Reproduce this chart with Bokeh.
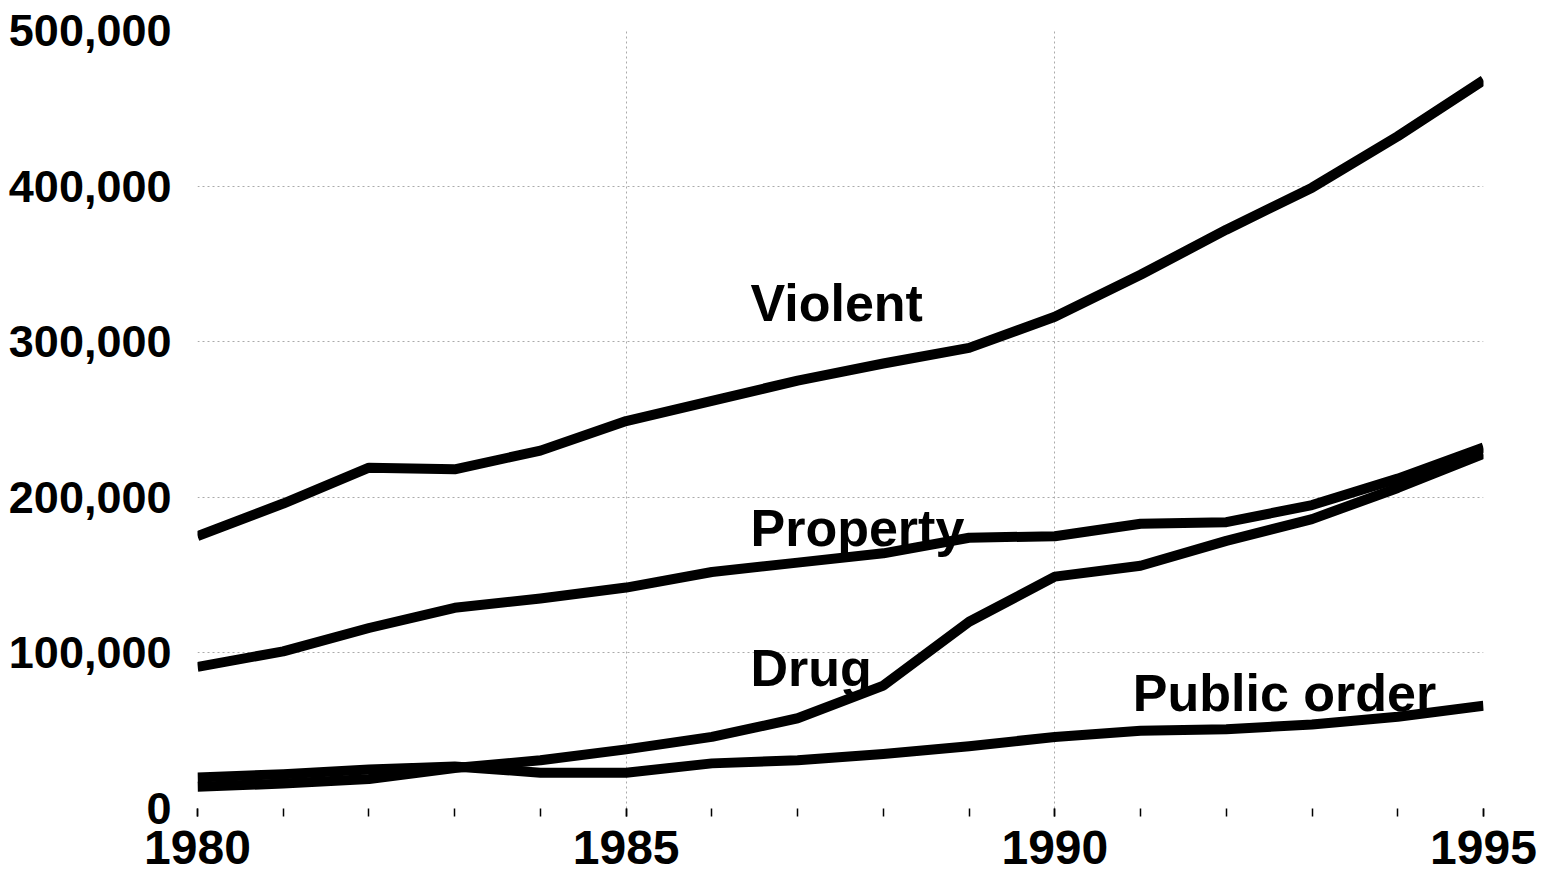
from bokeh.plotting import figure
from bokeh.models import FixedTicker, NumeralTickFormatter, ColumnDataSource
from bokeh.core.properties import value
from bokeh.embed import file_html
from bokeh.resources import INLINE

years = list(range(1980, 1996))
violent = [175000, 196000, 219000, 218000, 230000, 249000, 262000, 275000,
           286000, 296000, 316000, 343000, 372000, 399000, 432000, 468000]
property_ = [91000, 101000, 116000, 129000, 135000, 142000, 152000, 158000,
             164000, 174000, 175000, 183000, 184000, 195000, 212000, 232000]
drug = [14000, 16000, 19000, 26000, 31000, 38000, 46000, 58000,
        79000, 120000, 149000, 156000, 172000, 186000, 206000, 228000]
public_order = [20000, 22000, 25000, 27000, 23000, 23000, 29000, 31000,
                35000, 40000, 46000, 50000, 51000, 54000, 59000, 66000]

label_names = ["Violent", "Property", "Drug", "Public order"]
label_x = [1986.45, 1986.45, 1986.45, 1990.91]
label_y = [325000, 180500, 90500, 74500]

x_label_years = [1980, 1985, 1990, 1995]
y_ticks = [0, 100000, 200000, 300000, 400000, 500000]

FONT = "Liberation Sans"

p = figure(width=1541, height=884, x_range=(1980, 1995), y_range=(0, 500000),
           output_backend="svg", toolbar_location=None,
           min_border_left=197, min_border_right=58,
           min_border_top=30, min_border_bottom=76)
p.outline_line_color = None
p.background_fill_color = "white"

# axes
p.xaxis.ticker = FixedTicker(ticks=x_label_years, minor_ticks=years)
p.xaxis.axis_line_color = None
p.xaxis.major_tick_line_color = "black"
p.xaxis.major_tick_line_width = 1.5
p.xaxis.major_tick_out = 8
p.xaxis.major_tick_in = 0
p.xaxis.minor_tick_line_color = "black"
p.xaxis.minor_tick_line_width = 1.5
p.xaxis.minor_tick_out = 8
p.xaxis.minor_tick_in = 0
p.xaxis.major_label_standoff = 14
p.xaxis.major_label_text_font = FONT
p.xaxis.major_label_text_font_style = "bold"
p.xaxis.major_label_text_font_size = "48px"
p.xaxis.major_label_text_color = "black"

p.yaxis.ticker = FixedTicker(ticks=y_ticks)
p.yaxis.formatter = NumeralTickFormatter(format="0,0")
p.yaxis.axis_line_color = None
p.yaxis.major_tick_line_color = None
p.yaxis.minor_tick_line_color = None
p.yaxis.major_label_standoff = 20
p.yaxis.major_label_text_font = FONT
p.yaxis.major_label_text_font_style = "bold"
p.yaxis.major_label_text_font_size = "45px"
p.yaxis.major_label_text_color = "black"

# grids
p.xgrid.ticker = FixedTicker(ticks=x_label_years)
p.xgrid.grid_line_color = "#aaaaaa"
p.xgrid.grid_line_dash = "2 3"
p.xgrid.grid_line_width = 1
p.ygrid.ticker = FixedTicker(ticks=y_ticks[1:])
p.ygrid.grid_line_color = "#aaaaaa"
p.ygrid.grid_line_dash = "2 3"
p.ygrid.grid_line_width = 1

for series in [violent, property_, drug, public_order]:
    p.line(years, series, line_color="black", line_width=10, line_join="round")

src = ColumnDataSource(dict(x=label_x, y=label_y, t=label_names))
p.text(x="x", y="y", text="t", source=src, text_font=value(FONT),
       text_font_style="bold", text_font_size="52px", text_color="black",
       text_align="left", text_baseline="alphabetic")

open("out.html", "w").write(file_html(p, INLINE))
